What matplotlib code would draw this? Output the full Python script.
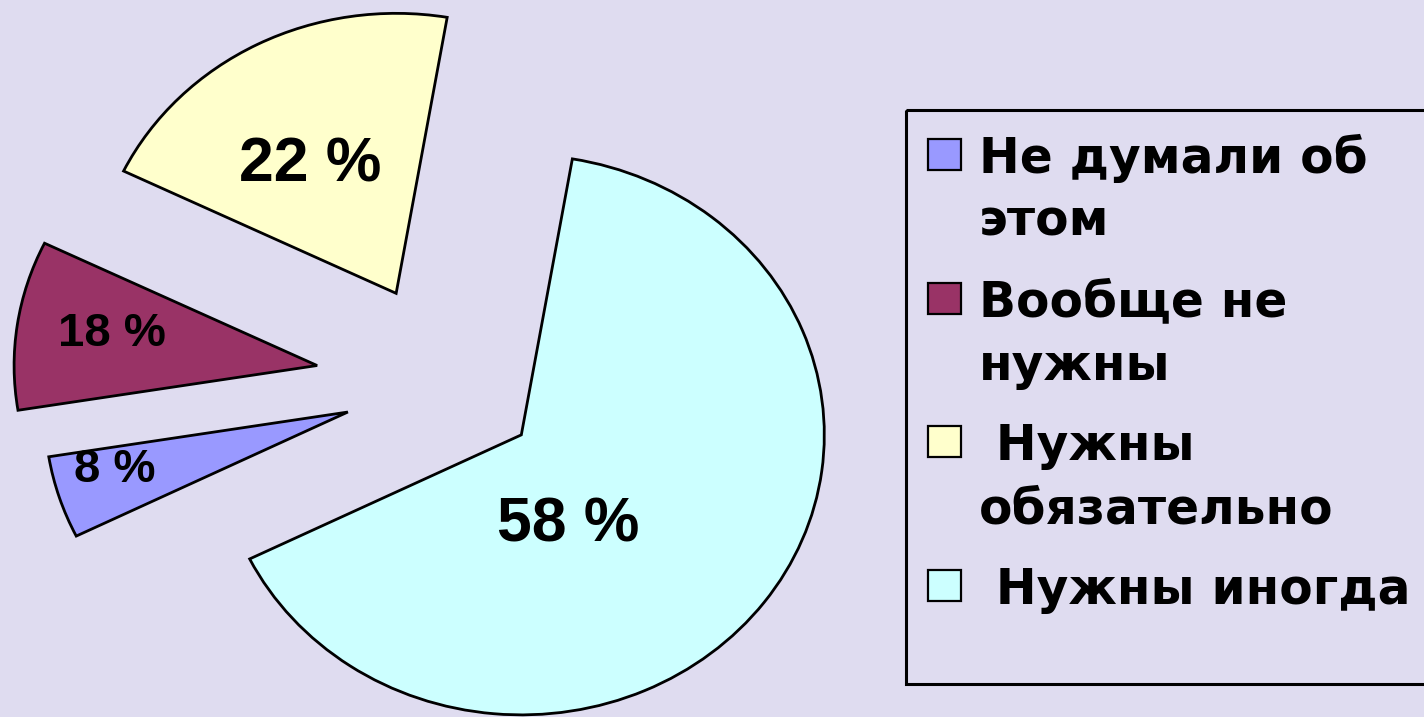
import matplotlib

matplotlib.use("Agg")
import matplotlib.pyplot as plt
from matplotlib.patches import Rectangle
import numpy as np

plt.rcParams["font.family"] = ["Liberation Sans", "DejaVu Sans"]

W, H = 1424, 717
BG = "#DFDCF0"

# answers, in legend order
categories = ["Не думали об\nэтом", "Вообще не\nнужны", " Нужны\nобязательно", " Нужны иногда"]
pct_labels = ["8 %", "18 %", "22 %", "58 %"]
# wedge shares as they are drawn in the picture
shares = [4.75, 9.75, 20.5, 65.0]
colors = ["#9999FF", "#993366", "#FFFFCC", "#CCFFFF"]
explode = [0.34, 0.43, 0.36, 0.31]

# label placement relative to each exploded wedge: (distance, angle offset from mid)
label_r = [0.81, 0.68, 0.49, 0.41]
label_dtheta = [0.3, 2.6, 8.4, -31.2]
label_size = [34, 34, 45, 45]

fig = plt.figure(figsize=(W / 100, H / 100), dpi=100, facecolor=BG)

# pie axes: 1 data unit = 303 px across, 280 px down (the original is stretched)
ax = fig.add_axes([0, 0, 1, 1])
ax.set_facecolor(BG)
wedges, _ = ax.pie(
    shares,
    colors=colors,
    explode=explode,
    startangle=206.3,
    counterclock=False,
    wedgeprops=dict(edgecolor="black", linewidth=2.0),
)
cx, cy, sx, sy = 446, 383, 303, 280
ax.set_aspect("auto")
ax.set_xlim(-cx / sx, (W - cx) / sx)
ax.set_ylim(-(H - cy) / sy, cy / sy)
ax.axis("off")

for w, lab, r, dt, fs in zip(wedges, pct_labels, label_r, label_dtheta, label_size):
    mid = np.deg2rad((w.theta1 + w.theta2) / 2 + dt)
    x0, y0 = w.center
    ax.text(x0 + r * np.cos(mid), y0 + r * np.sin(mid), lab,
            ha="center", va="baseline", fontsize=fs, fontweight="bold")

# legend drawn in pixel coordinates
lax = fig.add_axes([0, 0, 1, 1], facecolor="none")
lax.set_xlim(0, W)
lax.set_ylim(H, 0)
lax.axis("off")
lax.add_patch(Rectangle((906, 110), 560, 574, facecolor="none",
                        edgecolor="black", linewidth=2.2))
for i, (name, col) in enumerate(zip(categories, colors)):
    top = 139 + i * 143.5
    lax.add_patch(Rectangle((928, top), 33, 31, facecolor=col,
                            edgecolor="black", linewidth=1.6))
    for j, line in enumerate(name.split("\n")):
        lax.text(979, top + 34 + j * 63, line, ha="left", va="baseline",
                 fontsize=35, fontweight="bold", family="DejaVu Sans")

fig.savefig("out.png", dpi=100, facecolor=BG)
